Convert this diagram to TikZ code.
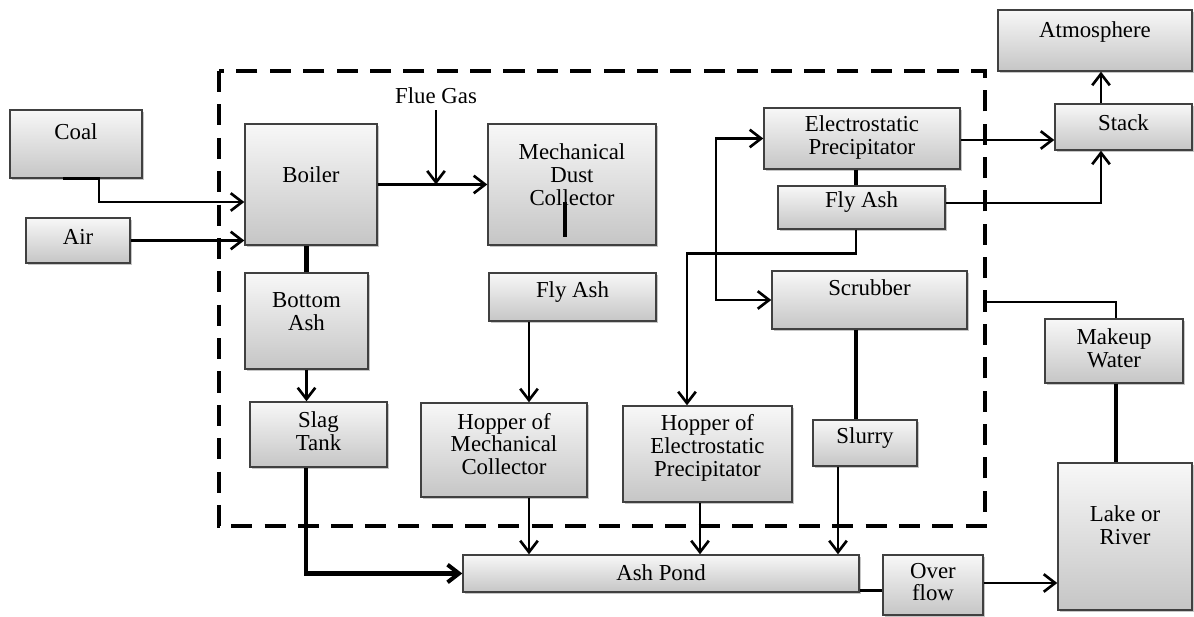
\documentclass[tikz,border=0pt]{standalone}
\usepackage{fontspec}
\setmainfont{Liberation Serif}
\usepackage{tikz}
\usetikzlibrary{calc,arrows.meta,shadows,positioning}

\tikzset{
  blk/.style 2 args={draw=black!75, line width=0.8pt,
    top color=gray!6, bottom color=gray!45,
    minimum width=#1*0.02cm, minimum height=#2*0.02cm, inner sep=0pt,
    drop shadow={shadow xshift=1.3pt, shadow yshift=-1.3pt, opacity=0.45}},
  txt/.style 2 args={label={[yshift=#1*0.02cm]center:#2}},
  offx/.style={xshift=#1*0.02cm},
  offy/.style={yshift=-#1*0.02cm},
  ln/.style={line width=1.5pt},
  thk/.style={line width=2.3pt},
}

\begin{document}
\begin{tikzpicture}[x=0.02cm,y=-0.02cm,
    font=\fontsize{13}{13}\selectfont,
    every label/.style={align=center, inner sep=0pt},
    >={Straight Barb[length=6.5pt,width=10pt]}]
  \useasboundingbox (0,0) rectangle (1194,617);

  % plant boundary
  \draw[line width=2.8pt, dash pattern=on 12pt off 7pt] (219,71) rectangle (985,526);

  % inputs
  \node[blk={132}{68}, txt={12}{Coal}] (coal) at (76,144) {};
  \node[blk={104}{45}, txt={3.5}{Air}] (air) at (78,240.5) {};
  \node (flue) at (436,96) {Flue Gas};

  % boiler side
  \node[blk={132}{121}, txt={9.5}{Boiler}] (boiler) at (311,184.5) {};
  \node[blk={123}{96}, txt={9}{Bottom\\Ash}] (btmash) at (306.5,321) {};
  \node[blk={137}{65}, txt={3.5}{Slag\\Tank}] (slag) at (318.5,434.5) {};

  % mechanical collector
  \node[blk={168}{121}, txt={10}{Mechanical\\Dust\\Collector}] (mdc) at (572,184.5) {};
  \node[blk={167}{48}, txt={5}{Fly Ash}] (flyashM) at (572.5,297) {};
  \node[blk={166}{94}, txt={6}{Hopper of\\Mechanical\\Collector}] (hopMC) at (504,450) {};

  % precipitator and scrubber
  \node[blk={196}{61}, txt={1}{Electrostatic\\Precipitator}] (ep) at (862,138.5) {};
  \node[blk={167}{43}, txt={5.5}{Fly Ash}] (flyashR) at (861.5,207.5) {};
  \node[blk={195}{58}, txt={12}{Scrubber}] (scrub) at (869.5,300) {};
  \node[blk={104}{46}, txt={5}{Slurry}] (slurry) at (865,443) {};
  \node[blk={169}{96}, txt={6}{Hopper of\\Electrostatic\\Precipitator}] (hopEP) at (707.5,454) {};

  % outside
  \node[blk={396}{37}, txt={0.5}{Ash Pond}] (ashpond) at (661,573.5) {};
  \node[blk={100}{60}, txt={3}{Over\\flow}] (overflow) at (933,585) {};
  \node[blk={134}{147}, txt={11}{Lake or\\River}] (lake) at (1125,536.5) {};
  \node[blk={138}{64}, txt={3}{Makeup\\Water}] (makeup) at (1114,351) {};
  \node[blk={137}{46}, txt={4}{Stack}] (stack) at (1123.5,127) {};
  \node[blk={194}{61}, txt={8.5}{Atmosphere}] (atm) at (1095,40.5) {};

  % flows
  \draw[ln,->] ([offx=-13]coal.south) -- ([offx=23]coal.south) |- ([offy=17.5]boiler.west);
  \draw[ln,->] (air.east) -- (air.east -| boiler.west);
  \draw[ln,->] (boiler.east) -- (mdc.west);
  \draw[ln,->] (flue.south) -- (flue.south |- mdc.west);
  \draw[thk] ([offx=-7,offy=18]mdc.center) -- ([offx=-7,offy=53]mdc.center);

  \draw[thk] (btmash.north) -- (btmash.north |- boiler.south);
  \draw[ln,->] (btmash.south) -- (btmash.south |- slag.north);
  \draw[thk,->] ([offx=-12.5]slag.south) |- (ashpond.west);

  \draw[ln,->] ([offx=-43.5]flyashM.south) -- ([offx=-43.5]flyashM.south |- hopMC.north);
  \foreach \src/\dx in {hopMC/25, hopEP/-7.5, slurry/-27}
    \draw[ln,->] ([offx=\dx]\src.south) -- ([offx=\dx]\src.south |- ashpond.north);

  \draw[thk] ([offx=-6]ep.south) -- ([offx=-6]ep.south |- flyashR.north);
  \draw[ln,->] ([offx=-5.5]flyashR.south) -- ++(0,24) -| ([offx=-20.5]hopEP.north);
  \coordinate (split) at (716,220);
  \draw[ln,<->] (ep.west) -| (split) |- (scrub.west);
  \draw[thk] ([offx=-13.5]scrub.south) -- ([offx=-13.5]scrub.south |- slurry.north);

  \draw[ln] ([offy=-2]ashpond.south east) -- ([offy=-2]ashpond.south east -| overflow.west);
  \draw[ln,->] ([offy=-2]overflow.east) -- ([offy=-2]overflow.east -| lake.west);
  \draw[thk] ([offx=2]makeup.south) -- ([offx=2]makeup.south |- lake.north);
  \coordinate (mwend) at (985,302);
  \draw[ln] ([offx=2]makeup.north) |- (mwend);

  \draw[ln,->] ([offy=1.5]ep.east) -- ([offy=1.5]ep.east -| stack.west);
  \draw[ln,->] ([offy=-4.5]flyashR.east) -| ([offx=-22.5]stack.south);
  \draw[ln,->] ([offx=-22.5]stack.north) -- ([offx=-22.5]stack.north |- atm.south);
\end{tikzpicture}
\end{document}
